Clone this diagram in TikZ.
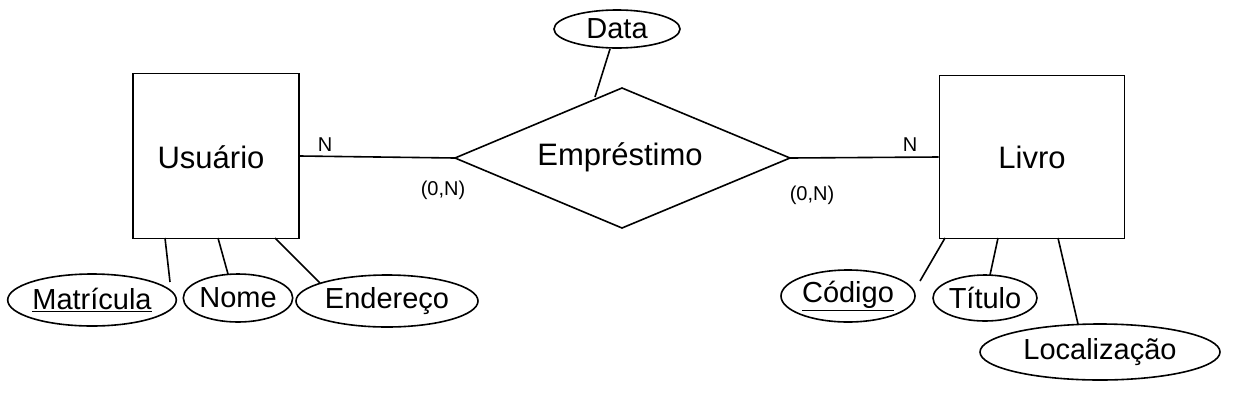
\documentclass[tikz,border=0pt]{standalone}
\usepackage{fontspec}
\setmainfont{Liberation Sans}
\usetikzlibrary{shapes.geometric}
\begin{document}
\begin{tikzpicture}[x=1pt,y=-1pt,line width=1.6pt,
  attr/.style={draw,ellipse,inner sep=0pt,font=\fontsize{29}{29}\selectfont},
  lbl/.style={font=\fontsize{20}{20}\selectfont,inner sep=0pt}]
\useasboundingbox (0,0) rectangle (1252,405);
\node[draw,minimum width=166pt,minimum height=165pt] (u) at (216,156) {};
\node[font=\fontsize{31}{31}\selectfont] (ut) at (211,157) {Usuário};
\node[draw,minimum width=185pt,minimum height=163pt] (l) at (1032,157) {};
\node[font=\fontsize{31}{31}\selectfont] (lt) at (1032,157) {Livro};
\coordinate (dl) at (455,158); \coordinate (dt) at (622,88);
\coordinate (dr) at (790,158); \coordinate (db) at (622,228);
\draw (dl) -- (dt) -- (dr) -- (db) -- cycle;
\node[font=\fontsize{31}{31}\selectfont] (e) at (620,157) {Empréstimo};
\node[attr,minimum width=126pt,minimum height=38pt] (data) at (617,29) {Data};
\draw (610,49) -- (595,97);
\draw (u.east) -- (dl);
\draw (dr) -- (l.west);
\node[lbl] (n1) at (325,145) {N};
\node[lbl] (c1) at (443,190) {(0,N)};
\node[lbl] (n2) at (910,145) {N};
\node[lbl] (c2) at (812,195) {(0,N)};
\node[attr,minimum width=168pt,minimum height=52pt] (m) at (92,300) {\underline{Matrícula}};
\node[attr,minimum width=106pt,minimum height=48pt] (no) at (238,298) {Nome};
\node[attr,minimum width=182pt,minimum height=52pt] (en) at (387,301) {Endereço};
\node[attr,minimum width=134pt,minimum height=52pt] (co) at (848,296) {\underline{Código}};
\node[attr,minimum width=104pt,minimum height=46pt] (ti) at (985,298) {Título};
\node[attr,minimum width=240pt,minimum height=56pt] (lo) at (1100,352) {Localização};
\draw (165,238) -- (170,282);
\draw (218,238) -- (228,274);
\draw (275,238) -- (320,283);
\draw (945,238) -- (920,281);
\draw (998,238) -- (990,275);
\draw (1058,238) -- (1078,324);
\end{tikzpicture}
\end{document}
